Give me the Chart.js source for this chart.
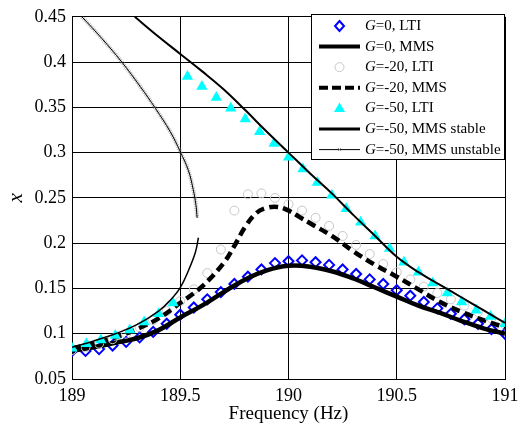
<!DOCTYPE html>
<html>
<head>
<meta charset="utf-8">
<script src="https://cdn.jsdelivr.net/npm/chart.js"></script>
<style>
  body { margin: 0; background: #fff; }
  canvas { display: block; }
</style>
</head>
<body>
<canvas id="chart" width="525" height="425"></canvas>
<script>
// LTI points, G=0 and G=-20 (same frequency grid)
var freqLTI = [189, 189.0625, 189.125, 189.1875, 189.25, 189.3125, 189.375, 189.4375, 189.5, 189.5625, 189.625, 189.6875,
  189.75, 189.8125, 189.875, 189.9375, 190, 190.0625, 190.125, 190.1875, 190.25, 190.3125, 190.375, 190.4375,
  190.5, 190.5625, 190.625, 190.6875, 190.75, 190.8125, 190.875, 190.9375, 191];
var lti0 = [0.081, 0.081, 0.083, 0.087, 0.091, 0.096, 0.102, 0.111, 0.121, 0.129, 0.138, 0.146,
  0.155, 0.163, 0.171, 0.178, 0.180, 0.181, 0.179, 0.176, 0.171, 0.166, 0.160, 0.155,
  0.148, 0.142, 0.135, 0.128, 0.122, 0.116, 0.111, 0.105, 0.100];
var lti20 = [0.082, 0.085, 0.089, 0.094, 0.100, 0.107, 0.115, 0.125, 0.136, 0.149, 0.167, 0.193,
  0.236, 0.254, 0.255, 0.250, 0.243, 0.236, 0.228, 0.219, 0.208, 0.198, 0.188, 0.177,
  0.168, 0.160, 0.152, 0.145, 0.138, 0.131, 0.124, 0.117, 0.110];

// LTI points, G=-50
var freqLTI50 = [189, 189.0667, 189.1333, 189.2, 189.2667, 189.3333, 189.4, 189.4667,
  189.5333, 189.6, 189.6667, 189.7333, 189.8, 189.8667, 189.9333, 190, 190.0667, 190.1333, 190.2, 190.2667,
  190.3333, 190.4, 190.4667, 190.5333, 190.6, 190.6667, 190.7333, 190.8, 190.8667, 190.9333, 191];
var lti50 = [0.084, 0.089, 0.093, 0.098, 0.104, 0.113, 0.122, 0.134,
  0.384, 0.373, 0.361, 0.349, 0.337, 0.323, 0.310, 0.295, 0.282, 0.267, 0.253, 0.238,
  0.223, 0.208, 0.194, 0.179, 0.168, 0.156, 0.145, 0.135, 0.126, 0.119, 0.111];

// MMS curves
var freqMms0 = [189, 189.1, 189.2, 189.3, 189.4, 189.5, 189.6, 189.7, 189.8, 189.9, 190,
  190.1, 190.2, 190.3, 190.4, 190.5, 190.6, 190.7, 190.8, 190.9, 191];
var mms0 = [0.081, 0.085, 0.090, 0.095, 0.104, 0.118, 0.131, 0.146, 0.160, 0.170, 0.175,
  0.174, 0.169, 0.161, 0.151, 0.141, 0.131, 0.123, 0.114, 0.106, 0.100];

var freqMms20 = [189, 189.1, 189.2, 189.3, 189.4, 189.5, 189.6, 189.7, 189.75, 189.8, 189.85, 189.9, 189.95,
  190, 190.05, 190.1, 190.2, 190.3, 190.4, 190.5, 190.6, 190.7, 190.8, 190.9, 191];
var mms20 = [0.084, 0.089, 0.096, 0.105, 0.117, 0.134, 0.152, 0.178, 0.197, 0.218, 0.233, 0.239, 0.240,
  0.236, 0.229, 0.222, 0.208, 0.191, 0.176, 0.163, 0.149, 0.135, 0.124, 0.115, 0.107];

var freqStableUp = [189.29, 189.4, 189.5, 189.6, 189.7, 189.8, 189.9, 190, 190.1, 190.2, 190.3, 190.4,
  190.5, 190.6, 190.7, 190.8, 190.9, 191];
var stableUp = [0.450, 0.428, 0.409, 0.390, 0.370, 0.347, 0.323, 0.300, 0.277, 0.255, 0.231, 0.208,
  0.185, 0.168, 0.154, 0.140, 0.126, 0.112];

var freqStableLow = [189, 189.1, 189.2, 189.3, 189.4, 189.45, 189.5, 189.54, 189.57, 189.584];
var stableLow = [0.085, 0.092, 0.100, 0.110, 0.125, 0.136, 0.151, 0.171, 0.190, 0.206];

var freqUnstable = [189.046, 189.138, 189.23, 189.315, 189.385, 189.454, 189.5, 189.538, 189.56, 189.572, 189.578];
var unstable = [0.450, 0.426, 0.400, 0.373, 0.349, 0.323, 0.301, 0.280, 0.259, 0.243, 0.228];

var legendLabels = ['=0, LTI', '=0, MMS', '=-20, LTI', '=-20, MMS', '=-50, LTI', '=-50, MMS stable', '=-50, MMS unstable'];

function pts(xs, ys) {
  return xs.map(function(x, i) { return {x: x, y: ys[i]}; });
}

var serif = 'Liberation Serif, Times New Roman, serif';

// legend box inside the axes, drawn by hand
var boxLegend = {
  id: 'boxLegend',
  afterDraw: function(chart) {
    var ctx = chart.ctx;
    var x0 = 311.5, y0 = 14.5, w = 193, h = 145;
    ctx.save();
    ctx.fillStyle = '#fff';
    ctx.fillRect(x0, y0, w, h);
    ctx.strokeStyle = '#000';
    ctx.lineWidth = 1;
    ctx.strokeRect(x0, y0, w, h);
    var l1 = 319, l2 = 360, mx = 339.5, tx = 365;
    legendLabels.forEach(function(lab, i) {
      var y = 26 + i * 20.6;
      ctx.save();
      if (i == 1 || i == 3 || i == 5 || i == 6) {
        ctx.beginPath();
        ctx.strokeStyle = '#000';
        ctx.lineWidth = i == 1 ? 4 : (i == 3 ? 4 : (i == 5 ? 3 : 1));
        if (i == 3) ctx.setLineDash([9, 4]);
        ctx.moveTo(l1, y); ctx.lineTo(l2, y);
        ctx.stroke();
        ctx.setLineDash([]);
        if (i == 6) {
          ctx.strokeStyle = '#888';
          ctx.beginPath();
          ctx.moveTo(mx - 1.5, y - 1.5); ctx.lineTo(mx + 1.5, y + 1.5);
          ctx.moveTo(mx + 1.5, y - 1.5); ctx.lineTo(mx - 1.5, y + 1.5);
          ctx.stroke();
        }
      } else if (i == 0) {
        ctx.beginPath();
        ctx.strokeStyle = '#0000ff'; ctx.lineWidth = 2;
        ctx.moveTo(mx, y - 5); ctx.lineTo(mx + 4.5, y); ctx.lineTo(mx, y + 5); ctx.lineTo(mx - 4.5, y); ctx.closePath();
        ctx.stroke();
      } else if (i == 2) {
        ctx.beginPath();
        ctx.strokeStyle = '#c8c8c8'; ctx.lineWidth = 1;
        ctx.arc(mx, y, 4.5, 0, Math.PI * 2);
        ctx.stroke();
      } else if (i == 4) {
        ctx.beginPath();
        ctx.fillStyle = '#00ffff';
        ctx.moveTo(mx, y - 6); ctx.lineTo(mx + 5.5, y + 3.5); ctx.lineTo(mx - 5.5, y + 3.5); ctx.closePath();
        ctx.fill();
      }
      ctx.restore();
      ctx.fillStyle = '#000';
      ctx.textBaseline = 'middle';
      ctx.font = 'italic 15px ' + serif;
      ctx.fillText('G', tx, y);
      var gw = ctx.measureText('G').width;
      ctx.font = '15px ' + serif;
      ctx.fillText(lab, tx + gw, y);
    });
    ctx.restore();
  }
};

var whiteBg = {
  id: 'whiteBg',
  beforeDraw: function(chart) {
    var ctx = chart.ctx;
    ctx.save();
    ctx.fillStyle = '#fff';
    ctx.fillRect(0, 0, chart.width, chart.height);
    ctx.restore();
  }
};

var Cnvs = document.getElementById('chart').getContext('2d');
var myChart = new Chart(Cnvs, {
  type: 'scatter',
  data: {
    datasets: [
      { data: pts(freqLTI, lti0), showLine: false, pointStyle: 'rectRot', pointRadius: 5,
        borderColor: '#0000ff', backgroundColor: 'rgba(0,0,0,0)', pointBorderWidth: 2, order: 9 },
      { data: pts(freqMms0, mms0), showLine: true, borderColor: '#000', borderWidth: 4.5,
        pointRadius: 0, tension: 0.4, order: 8 },
      { data: pts(freqLTI, lti20), showLine: false, pointStyle: 'circle', pointRadius: 4.5,
        borderColor: '#c8c8c8', backgroundColor: 'rgba(0,0,0,0)', pointBorderWidth: 1, order: 7 },
      { data: pts(freqMms20, mms20), showLine: true, borderColor: '#000', borderWidth: 4.5,
        borderDash: [9, 5], pointRadius: 0, tension: 0.4, order: 6 },
      { data: pts(freqLTI50, lti50), showLine: false, pointStyle: 'triangle', pointRadius: 6.5,
        borderColor: '#00ffff', backgroundColor: '#00ffff', pointBorderWidth: 0, order: 5 },
      { data: pts(freqStableUp, stableUp), showLine: true, borderColor: '#000', borderWidth: 2,
        pointRadius: 0, tension: 0.4, order: 4 },
      { data: pts(freqStableLow, stableLow), showLine: true, borderColor: '#000', borderWidth: 1.5,
        pointRadius: 0, tension: 0.4, order: 3 },
      { data: pts(freqUnstable, unstable), showLine: true, borderColor: 'rgba(150,150,150,0.7)', borderWidth: 4,
        borderDash: [1, 1], pointRadius: 0, tension: 0.4, order: 2 },
      { data: pts(freqUnstable, unstable), showLine: true, borderColor: '#000', borderWidth: 1,
        pointRadius: 0, tension: 0.4, order: 1 }
    ]
  },
  options: {
    responsive: false,
    animation: false,
    layout: { padding: { left: 0, right: 20, top: 15, bottom: 0 } },
    plugins: { legend: { display: false }, tooltip: { enabled: false } },
    scales: {
      x: {
        type: 'linear', min: 189, max: 191,
        ticks: { stepSize: 0.5, color: '#000', padding: 6, font: { family: serif, size: 18 },
          callback: function(v) { return String(parseFloat(v.toFixed(2))); } },
        grid: { color: '#000', lineWidth: 1, drawTicks: false },
        border: { color: '#000', width: 1 },
        title: { display: true, text: 'Frequency (Hz)', color: '#000', font: { family: serif, size: 19 },
          padding: { top: 0, bottom: 0 } },
        afterFit: function(scale) { scale.height = 46; }
      },
      y: {
        type: 'linear', min: 0.05, max: 0.45,
        ticks: { stepSize: 0.05, color: '#000', padding: 6, font: { family: serif, size: 18 },
          callback: function(v) { return String(parseFloat(v.toFixed(2))); } },
        grid: { color: '#000', lineWidth: 1, drawTicks: false },
        border: { color: '#000', width: 1 },
        title: { display: true, text: 'x', color: '#000', font: { family: serif, size: 21, style: 'italic' },
          padding: { top: 4, bottom: 0 } },
        afterFit: function(scale) { scale.width = 72; }
      }
    }
  },
  plugins: [whiteBg, boxLegend]
});
</script>
</body>
</html>
